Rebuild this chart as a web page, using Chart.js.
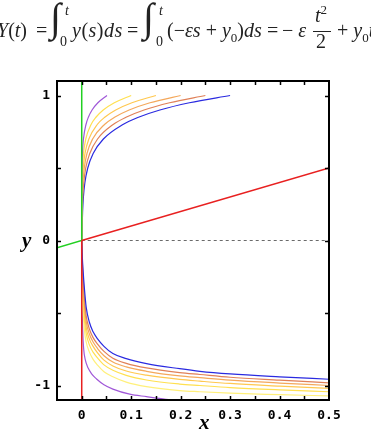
<!DOCTYPE html>
<html>
<head>
<meta charset="utf-8">
<script src="https://cdn.jsdelivr.net/npm/chart.js@4"></script>
<style>
  html, body { margin:0; padding:0; background:#fff; }
  #wrap { position:relative; width:371px; height:431px; overflow:hidden; }
  canvas { position:absolute; left:0; top:0; }
  .eq { position:absolute; font-family:'Liberation Serif','DejaVu Serif',serif; font-size:20px; line-height:1; white-space:nowrap; color:#222; }
  .i { font-style:italic; }
  .ax { position:absolute; font-family:'Liberation Serif','DejaVu Serif',serif; font-weight:bold; font-style:italic; font-size:21px; line-height:1; color:#000; }
</style>
</head>
<body>
<div id="wrap">
  <canvas id="c" width="371" height="431"></canvas>
  <span class="eq" style="left:-3px;top:20px;"><span class="i">Y</span>(<span class="i">t</span>)</span>
  <span class="eq" style="left:36px;top:20px;">=</span>
  <span class="eq i" style="left:50px;top:-2px;font-size:40px;">∫</span>
  <span class="eq i" style="left:65px;top:4px;font-size:14px;">t</span>
  <span class="eq" style="left:60px;top:35px;font-size:14px;">0</span>
  <span class="eq" style="left:72px;top:20px;letter-spacing:0.5px;"><span class="i">y</span>(<span class="i">s</span>)<span class="i">ds</span></span>
  <span class="eq" style="left:127px;top:20px;">=</span>
  <span class="eq i" style="left:143px;top:-2px;font-size:40px;">∫</span>
  <span class="eq i" style="left:159px;top:4px;font-size:14px;">t</span>
  <span class="eq" style="left:156px;top:35px;font-size:14px;">0</span>
  <span class="eq" style="left:167px;top:20px;">(−<span class="i">εs</span> + <span class="i">y</span><sub style="font-size:13px;">0</sub>)<span class="i">ds</span></span>
  <span class="eq" style="left:267px;top:20px;">=</span>
  <span class="eq" style="left:282px;top:20px;">−&nbsp;<span class="i">ε</span></span>
  <span class="eq i" style="left:315px;top:3px;">t<sup style="font-size:13px;font-style:normal;">2</sup></span>
  <span style="position:absolute;left:313px;top:31px;width:18px;height:1px;background:#222;"></span>
  <span class="eq" style="left:316px;top:31px;">2</span>
  <span class="eq" style="left:337px;top:20px;">+ <span class="i">y</span><sub style="font-size:13px;">0</sub><span class="i">t</span></span>
  <span class="ax" style="left:22px;top:230px;">y</span>
  <span class="ax" style="left:199px;top:412px;">x</span>
</div>
<script>
// ---- data ----
const xLabelTicks = [0, 0.1, 0.2, 0.3, 0.4, 0.5];
const xMinorTicks = [0, 0.05, 0.1, 0.15, 0.2, 0.25, 0.3, 0.35, 0.4, 0.45];
const yLabelTicks = [-1, 0, 1];
const yMinorTicks = [-1, -0.5, 0, 0.5, 1];

// upper family (x values at the common y levels)
const upperY      = [0, 0.2, 0.3, 0.4, 0.5, 0.6, 0.7, 0.8, 0.85, 0.9, 0.95, 1.0];
const upperPurple = [0, 0.00004, 0.0001, 0.00024, 0.00059, 0.00143, 0.0035, 0.0086, 0.0134, 0.0209, 0.0327, 0.051];
const upperYellow = [0, 0.00013, 0.00029, 0.00067, 0.00155, 0.00357, 0.0082, 0.0189, 0.0287, 0.0435, 0.0659, 0.1];
const upperGold   = [0, 0.00029, 0.00063, 0.0014, 0.003, 0.0066, 0.0144, 0.0314, 0.0465, 0.0687, 0.1015, 0.15];
const upperOrange = [0, 0.00056, 0.00116, 0.0024, 0.0051, 0.0106, 0.022, 0.046, 0.0664, 0.0959, 0.138, 0.2];
const upperSalmon = [0, 0.00104, 0.00207, 0.0041, 0.0081, 0.0162, 0.032, 0.0635, 0.0895, 0.126, 0.1776, 0.25];
const upperBlue   = [0, 0.00177, 0.0034, 0.0064, 0.0122, 0.0231, 0.0438, 0.0833, 0.1147, 0.158, 0.2177, 0.3];

// lower family (y values at the common x positions)
const lowerX        = [0, 0.001, 0.003, 0.0055, 0.009, 0.0155, 0.023, 0.032, 0.045, 0.063, 0.09, 0.131, 0.198, 0.239, 0.3, 0.4, 0.5];
const lowerBlue     = [0, -0.1, -0.22, -0.335, -0.46, -0.564, -0.63, -0.678, -0.73, -0.78, -0.815, -0.849, -0.884, -0.902, -0.92, -0.94, -0.957];
const lowerSalmon   = [0, -0.13, -0.27, -0.4, -0.52, -0.61, -0.67, -0.715, -0.765, -0.812, -0.847, -0.879, -0.911, -0.924, -0.943, -0.963, -0.982];
const lowerOrange   = [0, -0.16, -0.31, -0.45, -0.56, -0.645, -0.7, -0.745, -0.795, -0.838, -0.872, -0.902, -0.934, -0.946, -0.963, -0.983, -1.0];
const lowerGold     = [0, -0.2, -0.36, -0.5, -0.6, -0.68, -0.73, -0.775, -0.825, -0.865, -0.9, -0.929, -0.958, -0.97, -0.986, -1.004, -1.02];
const lowerYellow   = [0, -0.25, -0.42, -0.55, -0.64, -0.72, -0.77, -0.81, -0.858, -0.895, -0.93, -0.962, -0.99, -1.0, -1.014, -1.03, -1.043];
const lowerPale     = [0, -0.32, -0.5, -0.62, -0.7, -0.77, -0.82, -0.86, -0.905, -0.94, -0.977, -1.008, -1.035, -1.043, -1.053, -1.063, -1.072];
const lowerPurpleX  = [0, 0.0005, 0.002, 0.004, 0.007, 0.013, 0.02, 0.03, 0.045, 0.063, 0.097, 0.131, 0.17, 0.19];
const lowerPurpleY  = [0, -0.35, -0.62, -0.75, -0.82, -0.88, -0.92, -0.955, -0.995, -1.025, -1.06, -1.077, -1.095, -1.102];

// straight lines
const redDiagX = [0, 0.5],   redDiagY = [0, 0.5];
const redVertX = [0, 0],     redVertY = [0, -1.1];
const greenX   = [-0.05, 0, 0], greenY = [-0.05, 0, 1.1];
const dashX    = [0, 0.5],   dashY    = [0, 0];

const C = {
  purple:'#a058d8', pale:'#fff07a', yellow:'#ffe050', gold:'#ffc850',
  orange:'#f4a85c', salmon:'#e08058', blue:'#2a2ae0', red:'#e82020', green:'#22d022'
};

function pts(xs, ys){ return xs.map((x,i)=>({x:x, y:ys[i]})); }
function curve(data, color){
  return { data, borderColor:color, borderWidth:1.2, pointRadius:0, fill:false,
           cubicInterpolationMode:'monotone', clip:0 };
}
function straight(data, color, w, dash){
  return { data, borderColor:color, borderWidth:w, pointRadius:0, fill:false, tension:0,
           borderDash: dash || [], clip:0 };
}

const datasets = [
  straight(pts(redDiagX, redDiagY), C.red, 1.5),
  straight(pts(redVertX, redVertY), C.red, 1.5),
  straight(pts(greenX, greenY), C.green, 1.5),
  straight(pts(dashX, dashY), '#6a6a6a', 1, [3,3]),
  curve(pts(upperPurple, upperY), C.purple),
  curve(pts(upperYellow, upperY), C.yellow),
  curve(pts(upperGold, upperY), C.gold),
  curve(pts(upperOrange, upperY), C.orange),
  curve(pts(upperSalmon, upperY), C.salmon),
  curve(pts(upperBlue, upperY), C.blue),
  curve(pts(lowerX, lowerBlue), C.blue),
  curve(pts(lowerX, lowerSalmon), C.salmon),
  curve(pts(lowerX, lowerOrange), C.orange),
  curve(pts(lowerX, lowerGold), C.gold),
  curve(pts(lowerX, lowerYellow), C.yellow),
  curve(pts(lowerX, lowerPale), C.pale),
  curve(pts(lowerPurpleX, lowerPurpleY), C.purple)
];

const tickFont = { family:"'DejaVu Sans Mono', 'Liberation Mono', monospace", size:13, weight:'bold' };

const framePlugin = {
  id:'frame',
  afterDatasetsDraw(chart){
    const {ctx, chartArea:a, scales:{x, y}} = chart;
    ctx.save();
    ctx.strokeStyle = '#000';
    ctx.lineWidth = 1.5;
    xMinorTicks.forEach(v => {
      const p = Math.round(x.getPixelForValue(v)) + 0.5;
      ctx.beginPath(); ctx.moveTo(p, a.bottom); ctx.lineTo(p, a.bottom - 4); ctx.stroke();
      ctx.beginPath(); ctx.moveTo(p, a.top); ctx.lineTo(p, a.top + 4); ctx.stroke();
    });
    yMinorTicks.forEach(v => {
      const p = Math.round(y.getPixelForValue(v)) + 0.5;
      ctx.beginPath(); ctx.moveTo(a.left, p); ctx.lineTo(a.left + 4, p); ctx.stroke();
      ctx.beginPath(); ctx.moveTo(a.right, p); ctx.lineTo(a.right - 4, p); ctx.stroke();
    });
    ctx.lineWidth = 2;
    ctx.strokeRect(a.left, a.top, a.right - a.left, a.bottom - a.top);
    ctx.restore();
  }
};

new Chart(document.getElementById('c'), {
  type:'line',
  data:{ datasets },
  options:{
    responsive:false, animation:false, events:[],
    layout:{ padding:{ left:0, top:81, right:42, bottom:0 } },
    plugins:{ legend:{display:false}, tooltip:{enabled:false} },
    scales:{
      x:{ type:'linear', min:-0.05, max:0.5, position:'bottom',
          afterFit(s){ s.height = 31; },
          afterBuildTicks(s){ s.ticks = xLabelTicks.map(v=>({value:v})); },
          ticks:{ font:tickFont, color:'#000', padding:8, maxRotation:0, autoSkip:false,
                  callback:(v)=> String(v) },
          grid:{ display:false, drawTicks:false }, border:{ display:false } },
      y:{ type:'linear', min:-1.1, max:1.1,
          afterFit(s){ s.width = 57; },
          afterBuildTicks(s){ s.ticks = yLabelTicks.map(v=>({value:v})); },
          ticks:{ font:tickFont, color:'#000', padding:7, autoSkip:false,
                  callback:(v)=> String(v) },
          grid:{ display:false, drawTicks:false }, border:{ display:false } }
    }
  },
  plugins:[framePlugin]
});
</script>
</body>
</html>
